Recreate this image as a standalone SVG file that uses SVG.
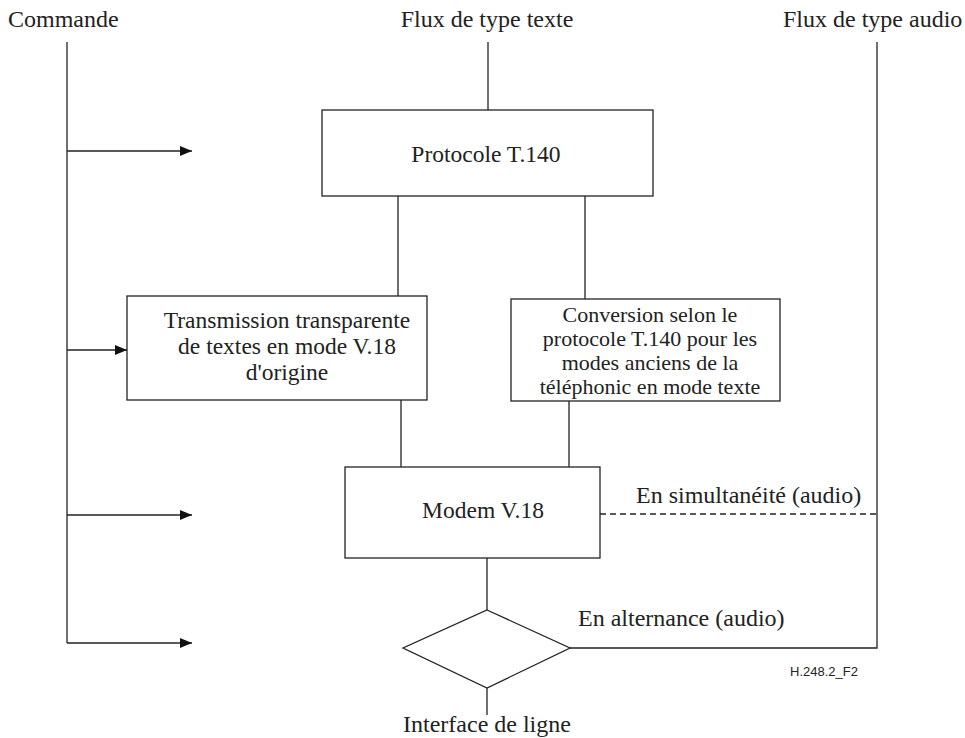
<svg xmlns="http://www.w3.org/2000/svg" width="965" height="738" viewBox="0 0 965 738">
<style>
.t{font-family:'Liberation Serif','Times New Roman',Times,'DejaVu Serif',serif;font-size:24px;fill:#222}
.m{font-size:23.5px}
.s{font-family:'Liberation Serif','Times New Roman',Times,'DejaVu Serif',serif;font-size:22px;fill:#222}
.c{text-anchor:middle}
.f{font-family:'Liberation Sans',Arial,sans-serif;font-size:13px;fill:#222}
.b{fill:#fff;stroke:#222;stroke-width:1.3}
.l{fill:none;stroke:#222;stroke-width:1.3}
</style>
<defs>
<marker id="ar" markerWidth="12" markerHeight="10" refX="12" refY="5" orient="auto" markerUnits="userSpaceOnUse">
<path d="M0,0 L12,5 L0,10 Z" fill="#111"/>
</marker>
</defs>
<g id="labels">
<text class="t" x="8" y="27">Commande</text>
<text class="t c" x="487" y="27">Flux de type texte</text>
<text class="t" x="783" y="27">Flux de type audio</text>
</g>
<g id="connectors">
<path class="l" d="M67,42 V643"/>
<path class="l" d="M67,151 H192" marker-end="url(#ar)"/>
<path class="l" d="M67,350 H127" marker-end="url(#ar)"/>
<path class="l" d="M67,515 H192" marker-end="url(#ar)"/>
<path class="l" d="M67,643 H192" marker-end="url(#ar)"/>
<path class="l" d="M488,42 V110"/>
<path class="l" d="M398,196 V296"/>
<path class="l" d="M585,196 V299"/>
<path class="l" d="M401,400 V467"/>
<path class="l" d="M569,401 V467"/>
<path class="l" d="M487,558 V610"/>
<path class="l" d="M487,688 V715"/>
<path class="l" d="M877,42 V648 H570"/>
<path class="l" d="M600,514 H877" stroke-dasharray="6,4"/>
<text class="t" x="636" y="503">En simultanéité (audio)</text>
<text class="t" x="578" y="626">En alternance (audio)</text>
</g>
<g id="protocole">
<rect class="b" x="322" y="110" width="331" height="86"/>
<text class="t m c" x="486" y="162">Protocole T.140</text>
</g>
<g id="transmission">
<rect class="b" x="127" y="296" width="300" height="104"/>
<text class="t m c" x="287" y="328">Transmission transparente</text>
<text class="t m c" x="287" y="354">de textes en mode V.18</text>
<text class="t m c" x="287" y="380">d'origine</text>
</g>
<g id="conversion">
<rect class="b" x="511" y="299" width="269" height="102"/>
<text class="s c" x="650" y="322">Conversion selon le</text>
<text class="s c" x="650" y="346">protocole T.140 pour les</text>
<text class="s c" x="650" y="370">modes anciens de la</text>
<text class="s c" x="650" y="394">téléphonic en mode texte</text>
</g>
<g id="modem">
<rect class="b" x="345" y="467" width="255" height="91"/>
<text class="t m c" x="483" y="518">Modem V.18</text>
</g>
<g id="interface">
<polygon class="b" points="487,610 570,648 487,688 403,648"/>
<text class="t c" x="487" y="732">Interface de ligne</text>
</g>
<text class="f" x="790" y="676">H.248.2_F2</text>
</svg>
